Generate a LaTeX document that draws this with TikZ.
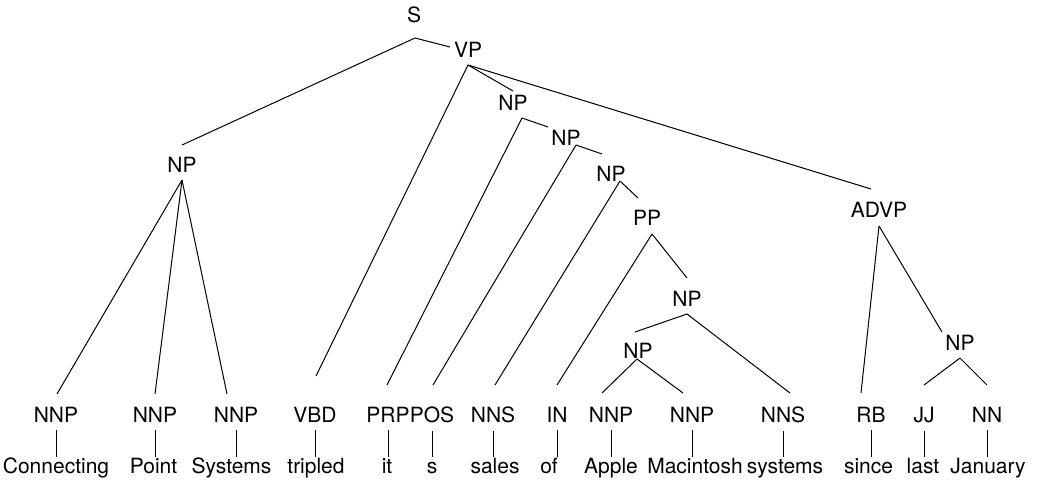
\documentclass[tikz,border=0pt]{standalone}
\usepackage{fontspec}
\setmainfont{TeX Gyre Heros}
\tikzset{
    LB/.style ={anchor=base, inner sep=0pt, font=\fontsize{10.5}{12}\selectfont},
    TG/.style ={LB, inner ysep=4pt},
    WD/.style ={LB, text height=8pt},
    ED/.style ={line width=0.5pt}}

\begin{document}
\begin{tikzpicture}[x=0.5pt,y=-0.5pt]
        \useasboundingbox (0,0) rectangle (1037,483);
        % phrases
        \node[LB] (s) at (414,22){S};
        \node[LB] (vp) at (468,57){VP};
        \node[LB] (np0) at (182,172){NP};
        \node[LB] (np1) at (513,110){NP};
        \node[LB] (np2) at (566,145){NP};
        \node[LB] (np3) at (611,181){NP};
        \node[LB] (pp) at (647,225){PP};
        \node[LB] (np4) at (687,306){NP};
        \node[LB] (np5) at (638,358){NP};
        \node[LB] (advp) at (879,217){ADVP};
        \node[LB] (np6) at (960,350){NP};
        \coordinate (sb) at (415,38);
        \coordinate (vpt) at (450,47);   \coordinate (vpb) at (468,65);
        \coordinate (np0t) at (182,145); \coordinate (np0b) at (182,180);
        \coordinate (np1t) at (513,91);  \coordinate (np1b) at (522,118);
        \coordinate (np2t) at (548,127); \coordinate (np2b) at (576,145);
        \coordinate (np3t) at (602,154); \coordinate (np3b) at (620,181);
        \coordinate (ppt) at (638,198);  \coordinate (ppb) at (652,234);
        \coordinate (np4t) at (687,278); \coordinate (np4b) at (687,314);
        \coordinate (np5t) at (635,332); \coordinate (np5b) at (637,359);
        \coordinate (advpt) at (871,189); \coordinate (advpb) at (879,226);
        \coordinate (np6t) at (942,332); \coordinate (np6b) at (960,358);
        % tags
        \node[TG] (1) at (56,422){NNP};
        \node[TG] (2) at (155,422){NNP};
        \node[TG] (3) at (236,422){NNP};
        \node[TG] (4) at (315,422){VBD};
        \node[TG] (5) at (388,422){PRP};
        \node[TG] (6) at (432,422){POS};
        \node[TG] (7) at (493,422){NNS};
        \node[TG] (8) at (557,422){IN};
        \node[TG] (9) at (611,422){NNP};
        \node[TG] (10) at (692,422){NNP};
        \node[TG] (11) at (783,422){NNS};
        \node[TG] (12) at (871,422){RB};
        \node[TG] (13) at (924,422){JJ};
        \node[TG] (14) at (987,422){NN};
        \coordinate (1t) at (57,394);
        \coordinate (2t) at (155,394);
        \coordinate (3t) at (227,394);
        \coordinate (4t) at (316,376);
        \coordinate (5t) at (387,385);
        \coordinate (6t) at (433,385);
        \coordinate (7t) at (495,385);
        \coordinate (8t) at (557,385);
        \coordinate (9t) at (602,393);
        \coordinate (10t) at (683,393);
        \coordinate (11t) at (790,393);
        \coordinate (12t) at (861,393);
        \coordinate (13t) at (924,385);
        \coordinate (14t) at (987,385);
        % words
        \node[WD] (w1) at (56,473){Connecting};
        \node[WD] (w2) at (153.5,473){Point};
        \node[WD] (w3) at (231.5,473){Systems};
        \node[WD] (w4) at (316,473){tripled};
        \node[WD] (w5) at (387,473){it};
        \node[WD] (w6) at (432,473){s};
        \node[WD] (w7) at (495,473){sales};
        \node[WD] (w8) at (549,473){of};
        \node[WD] (w9) at (611,473){Apple};
        \node[WD] (w10) at (695,473){Macintosh};
        \node[WD] (w11) at (785,473){systems};
        \node[WD] (w12) at (868.5,473){since};
        \node[WD] (w13) at (923,473){last};
        \node[WD] (w14) at (988,473){January};
        % branches
        \draw[ED] (sb) -- (vpt);
        \draw[ED] (sb) -- (np0t);
        \draw[ED] (vpb) -- (4t);
        \draw[ED] (vpb) -- (np1t);
        \draw[ED] (vpb) -- (advpt);
        \draw[ED] (np0b) -- (1t);
        \draw[ED] (np0b) -- (2t);
        \draw[ED] (np0b) -- (3t);
        \draw[ED] (np1b) -- (5t);
        \draw[ED] (np1b) -- (np2t);
        \draw[ED] (np2b) -- (6t);
        \draw[ED] (np2b) -- (np3t);
        \draw[ED] (np3b) -- (7t);
        \draw[ED] (np3b) -- (ppt);
        \draw[ED] (ppb) -- (8t);
        \draw[ED] (ppb) -- (np4t);
        \draw[ED] (np4b) -- (np5t);
        \draw[ED] (np4b) -- (11t);
        \draw[ED] (np5b) -- (9t);
        \draw[ED] (np5b) -- (10t);
        \draw[ED] (advpb) -- (12t);
        \draw[ED] (advpb) -- (np6t);
        \draw[ED] (np6b) -- (13t);
        \draw[ED] (np6b) -- (14t);
        % tag to word
        \draw[ED] (1.south) -- (1.south |- w1.north);
        \draw[ED] (2.south) -- (2.south |- w2.north);
        \draw[ED] (3.south) -- (3.south |- w3.north);
        \draw[ED] (4.south) -- (4.south |- w4.north);
        \draw[ED] (5.south) -- (5.south |- w5.north);
        \draw[ED] (6.south) -- (6.south |- w6.north);
        \draw[ED] (7.south) -- (7.south |- w7.north);
        \draw[ED] (8.south) -- (8.south |- w8.north);
        \draw[ED] (9.south) -- (9.south |- w9.north);
        \draw[ED] (10.south) -- (10.south |- w10.north);
        \draw[ED] (11.south) -- (11.south |- w11.north);
        \draw[ED] (12.south) -- (12.south |- w12.north);
        \draw[ED] (13.south) -- (13.south |- w13.north);
        \draw[ED] (14.south) -- (14.south |- w14.north);
    \end{tikzpicture}
\end{document}
